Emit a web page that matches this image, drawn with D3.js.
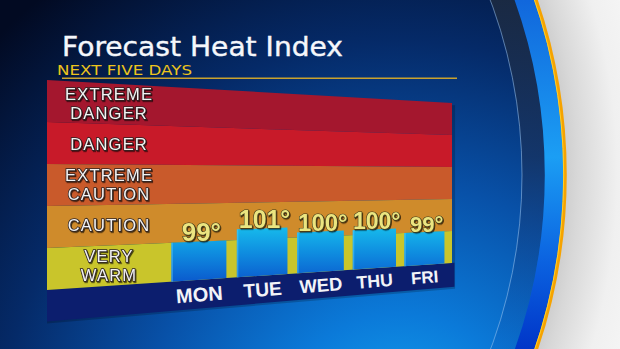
<!DOCTYPE html>
<html>
<head>
<meta charset="utf-8">
<script src="https://cdn.jsdelivr.net/npm/d3@7"></script>
<style>
  html, body { margin: 0; padding: 0; background: #f4f4f4; }
  svg { display: block; }
</style>
</head>
<body>
<svg id="chart" width="620" height="349"></svg>
<script>
// chart data
var days = ['MON', 'TUE', 'WED', 'THU', 'FRI'];
var heatIndex = [99, 101, 100, 100, 99];
var categories = ['EXTREME DANGER', 'DANGER', 'EXTREME CAUTION', 'CAUTION', 'VERY WARM'];
var categoryLines = [['EXTREME', 'DANGER'], ['DANGER'], ['EXTREME', 'CAUTION'], ['CAUTION'], ['VERY', 'WARM']];
var title = 'Forecast Heat Index';
var subtitle = 'NEXT FIVE DAYS';

// styles
var bandColors = ['#a4172e', '#c81a29', '#c95a2b', '#cf8b2b', '#c9c52b'];

var W = 620, H = 349;
var svg = d3.select('#chart');
var defs = svg.append('defs');

// perspective panel corners: TL, TR, BR, BL (colored part)
var P = [[47, 80], [452, 103], [452, 263], [47, 290]];

// square -> quad homography
function makeProjection(p) {
  var x0 = p[0][0], y0 = p[0][1], x1 = p[1][0], y1 = p[1][1];
  var x2 = p[2][0], y2 = p[2][1], x3 = p[3][0], y3 = p[3][1];
  var dx1 = x1 - x2, dx2 = x3 - x2, dx3 = x0 - x1 + x2 - x3;
  var dy1 = y1 - y2, dy2 = y3 - y2, dy3 = y0 - y1 + y2 - y3;
  var den = dx1 * dy2 - dx2 * dy1;
  var g = (dx3 * dy2 - dx2 * dy3) / den;
  var h = (dx1 * dy3 - dx3 * dy1) / den;
  var a = x1 - x0 + g * x1, b = x3 - x0 + h * x3, c = x0;
  var d = y1 - y0 + g * y1, e = y3 - y0 + h * y3, f = y0;
  var fn = function(u, v) {
    var w = g * u + h * v + 1;
    return [(a * u + b * v + c) / w, (d * u + e * v + f) / w];
  };
  fn.scale = function(u, v) { return 1 / (g * u + h * v + 1); };
  return fn;
}
var project = makeProjection(P);

function quad(u0, u1, v0, v1) {
  return [project(u0, v0), project(u1, v0), project(u1, v1), project(u0, v1)];
}
var line = d3.line();
function quadPath(u0, u1, v0, v1) {
  return line(quad(u0, u1, v0, v1)) + 'Z';
}

// scales in panel space (u across, v down)
var x = d3.scaleBand().domain(days).range([0.24, 0.988])
  .paddingInner(0.165).paddingOuter(0.0825);
var y = d3.scaleLinear().domain([92, 127]).range([1, 0]);
var band = d3.scaleBand().domain(categories).range([0, 1]);

// ---------- background ----------
var bg = defs.append('radialGradient').attr('id', 'bg')
  .attr('gradientUnits', 'userSpaceOnUse')
  .attr('cx', 400).attr('cy', 440).attr('r', 570);
[[0, '#14aaf3'], [0.22, '#0b7ad9'], [0.45, '#0851a8'], [0.7, '#052a68'], [1, '#020a22']]
  .forEach(function(s) { bg.append('stop').attr('offset', s[0]).attr('stop-color', s[1]); });

var white = defs.append('radialGradient').attr('id', 'white')
  .attr('gradientUnits', 'userSpaceOnUse')
  .attr('cx', 23.5).attr('cy', 175).attr('r', 660);
[[0.8, '#c4c4c4'], [0.84, '#d8d8d8'], [0.9, '#f0f0f0'], [1, '#fafafa']]
  .forEach(function(s) { white.append('stop').attr('offset', s[0]).attr('stop-color', s[1]); });

svg.append('rect').attr('width', W).attr('height', H).attr('fill', 'url(#white)');

var cx = 23.5, cy = 175;
svg.append('circle').attr('cx', cx).attr('cy', cy).attr('r', 542)
  .attr('fill', 'url(#bg)');

// dark glossy ring
var darkRing = defs.append('linearGradient').attr('id', 'darkRing')
  .attr('gradientUnits', 'userSpaceOnUse')
  .attr('x1', 0).attr('y1', 0).attr('x2', 0).attr('y2', H);
[[0, '#1b2a42', 0.95], [0.45, '#17325f', 0.75], [1, '#0a55b8', 0.2]]
  .forEach(function(s) {
    darkRing.append('stop').attr('offset', s[0]).attr('stop-color', s[1]).attr('stop-opacity', s[2]);
  });
svg.append('circle').attr('cx', cx).attr('cy', cy).attr('r', 510)
  .attr('fill', 'none').attr('stroke', 'url(#darkRing)').attr('stroke-width', 23);

svg.append('circle').attr('cx', cx).attr('cy', cy).attr('r', 498.5)
  .attr('fill', 'none').attr('stroke', '#9cc4ee').attr('stroke-opacity', 0.55)
  .attr('stroke-width', 1);

// bright blue ring
var blueRing = defs.append('linearGradient').attr('id', 'blueRing')
  .attr('gradientUnits', 'userSpaceOnUse')
  .attr('x1', 0).attr('y1', 0).attr('x2', 0).attr('y2', H);
[[0, '#1167dc'], [0.45, '#1b9ef4'], [0.75, '#0b62e0'], [1, '#0035c8']]
  .forEach(function(s) { blueRing.append('stop').attr('offset', s[0]).attr('stop-color', s[1]); });
svg.append('circle').attr('cx', cx).attr('cy', cy).attr('r', 530.8)
  .attr('fill', 'none').attr('stroke', 'url(#blueRing)').attr('stroke-width', 19);

// orange rim
svg.append('circle').attr('cx', cx).attr('cy', cy).attr('r', 541.5)
  .attr('fill', 'none').attr('stroke', '#f6a300').attr('stroke-width', 3.5);
svg.append('circle').attr('cx', cx).attr('cy', cy).attr('r', 540.2)
  .attr('fill', 'none').attr('stroke', '#ffd02a').attr('stroke-width', 1);

// ---------- filters ----------
var sh = defs.append('filter').attr('id', 'txtShadow')
  .attr('x', '-20%').attr('y', '-30%').attr('width', '140%').attr('height', '160%');
sh.append('feDropShadow').attr('dx', 1).attr('dy', 1.2).attr('stdDeviation', 0.7)
  .attr('flood-color', '#000').attr('flood-opacity', 0.65);

// ---------- title ----------
svg.append('text').attr('x', 62).attr('y', 56.4)
  .attr('font-family', 'DejaVu Sans, sans-serif').attr('font-size', 26)
  .attr('fill', '#f5f7fb').attr('stroke', '#f5f7fb').attr('stroke-width', 0.4)
  .attr('textLength', 281).attr('lengthAdjust', 'spacingAndGlyphs')
  .text(title);
svg.append('text').attr('x', 57).attr('y', 75.3)
  .attr('font-family', 'DejaVu Sans, sans-serif').attr('font-size', 14)
  .attr('fill', '#ecc41c').attr('textLength', 135).attr('lengthAdjust', 'spacingAndGlyphs')
  .text(subtitle);
svg.append('line').attr('x1', 62).attr('x2', 457).attr('y1', 78.2).attr('y2', 78.2)
  .attr('stroke', '#c9a22e').attr('stroke-width', 1.6);

// ---------- panel ----------
var panel = svg.append('g');

// subtle shadow under panel
panel.append('path')
  .attr('d', quadPath(0, 1.01, 0, 1.15))
  .attr('transform', 'translate(0,2)')
  .attr('fill', '#000').attr('opacity', 0.2);

// navy strip under bands
panel.append('path')
  .attr('d', quadPath(0, 1.008, 1, 1.15))
  .attr('fill', '#0c1e6e');

panel.selectAll('path.band')
  .data(categories)
  .join('path')
  .attr('class', 'band')
  .attr('d', function(c) { return quadPath(0, 1, band(c), band(c) + band.bandwidth()); })
  .attr('fill', function(c, i) { return bandColors[i]; });

// band labels, one text per line
var labelU = 0.12;
categories.forEach(function(c, i) {
  var vc = band(c) + band.bandwidth() / 2;
  var pt = project(labelU, vc);
  var lines = categoryLines[i];
  lines.forEach(function(l, j) {
    var off = (j - (lines.length - 1) / 2) * 18.6;
    panel.append('text')
      .attr('x', pt[0] + 0.6).attr('y', pt[1] + off + 5.9)
      .attr('text-anchor', 'middle')
      .attr('font-family', 'Liberation Sans, Arial, sans-serif')
      .attr('font-size', 16.5)
      .attr('letter-spacing', 1.2)
      .attr('fill', '#f3f3f3')
      .attr('stroke', '#2e2424').attr('stroke-width', 1.6)
      .attr('paint-order', 'stroke fill')
      .attr('filter', 'url(#txtShadow)')
      .text(l);
  });
});

// ---------- bars ----------
var barGrad = defs.append('linearGradient').attr('id', 'barGrad')
  .attr('gradientUnits', 'userSpaceOnUse')
  .attr('x1', 0).attr('y1', 226).attr('x2', 0).attr('y2', 284);
[[0, '#17bdec'], [0.45, '#0f8ee0'], [1, '#0a56cc']]
  .forEach(function(s) { barGrad.append('stop').attr('offset', s[0]).attr('stop-color', s[1]); });

var data = days.map(function(d, i) { return {day: d, value: heatIndex[i]}; });

panel.selectAll('path.bar')
  .data(data)
  .join('path')
  .attr('class', 'bar')
  .attr('d', function(d) { return quadPath(x(d.day), x(d.day) + x.bandwidth(), y(d.value), 1); })
  .attr('fill', 'url(#barGrad)');

// lighter left edge on bars
panel.selectAll('line.edge')
  .data(data)
  .join('line')
  .attr('class', 'edge')
  .each(function(d) {
    var a = project(x(d.day), y(d.value)), b = project(x(d.day), 1);
    d3.select(this).attr('x1', a[0] + 0.8).attr('y1', a[1]).attr('x2', b[0] + 0.8).attr('y2', b[1]);
  })
  .attr('stroke', '#5fd2ff').attr('stroke-opacity', 0.45).attr('stroke-width', 1.5);

// value labels
panel.selectAll('text.value')
  .data(data)
  .join('text')
  .attr('class', 'value')
  .each(function(d) {
    var uc = x(d.day) + x.bandwidth() / 2;
    var pt = project(uc, y(d.value));
    var s = project.scale(uc, y(d.value));
    d3.select(this)
      .attr('x', pt[0] + 2).attr('y', pt[1] - 0.5)
      .attr('font-size', 28.5 * s);
  })
  .attr('text-anchor', 'middle')
  .attr('font-family', 'Liberation Sans Narrow, Arial Narrow, sans-serif')
  .attr('font-weight', 'bold')
  .attr('fill', '#ebe580')
  .attr('stroke', '#3c3a1c').attr('stroke-width', 1.2)
  .attr('paint-order', 'stroke fill')
  .attr('filter', 'url(#txtShadow)')
  .text(function(d) { return d.value + '\u00b0'; });

// day labels on the strip
panel.selectAll('text.day')
  .data(data)
  .join('text')
  .attr('class', 'day')
  .each(function(d) {
    var uc = x(d.day) + x.bandwidth() / 2;
    var vc = 1.075;
    var pt = project(uc, vc);
    var p2 = project(uc + 0.01, vc);
    var ang = Math.atan2(p2[1] - pt[1], p2[0] - pt[0]) * 180 / Math.PI;
    var s = project.scale(uc, vc);
    d3.select(this)
      .attr('transform', 'translate(' + pt[0] + ',' + pt[1] + ') rotate(' + ang + ')')
      .attr('font-size', 22 * s)
      .attr('dy', '0.36em');
  })
  .attr('text-anchor', 'middle')
  .attr('font-family', 'Liberation Sans, Arial, sans-serif')
  .attr('font-weight', 'bold')
  .attr('fill', '#f2f4f8')
  .text(function(d) { return d.day; });
</script>
</body>
</html>
